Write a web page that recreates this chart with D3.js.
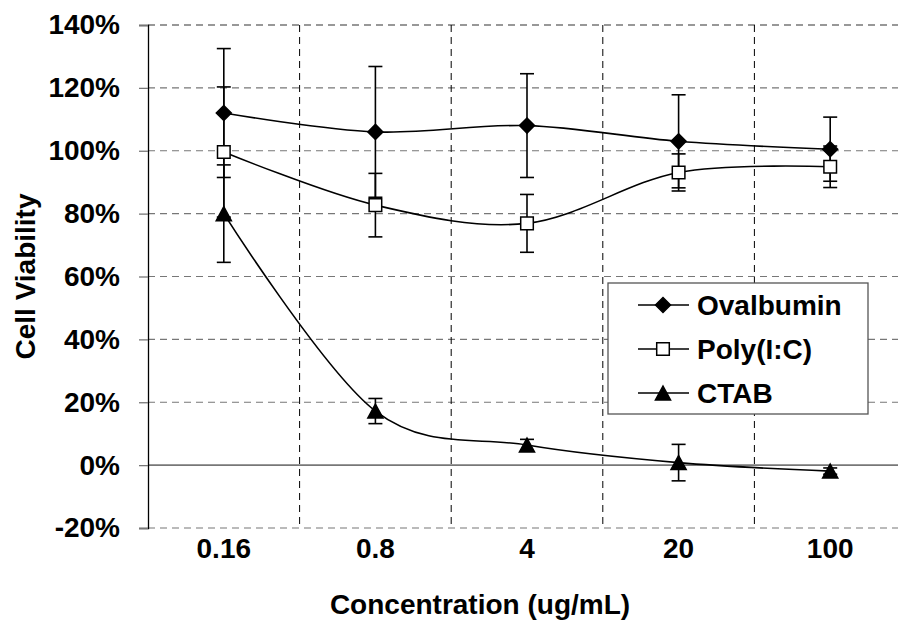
<!DOCTYPE html>
<html>
<head>
<meta charset="utf-8">
<script src="https://cdnjs.cloudflare.com/ajax/libs/d3/7.8.5/d3.min.js"></script>
<style>
  body { margin: 0; background: #fff; }
  svg { display: block; font-family: "Liberation Sans", Arial, sans-serif; font-weight: bold; }
</style>
</head>
<body>
<div id="chart"></div>
<script>
// data
var categories = ["0.16", "0.8", "4", "20", "100"];
var ovalbumin = [112, 106, 108, 103, 100.5];
var ovalbuminErr = [20.5, 20.8, 16.5, 14.8, 10.2];
var polyIC = [99.6, 82.7, 76.9, 93.1, 94.9];
var polyICErr = [20.7, 10.1, 9.2, 5.9, 6.6];
var ctab = [80, 17.2, 6.4, 0.8, -1.9];
var ctabErr = [15.5, 4, 1.8, 5.8, 1];
var yTicks = [-20, 0, 20, 40, 60, 80, 100, 120, 140];

var W = 898, H = 629;
var margin = {left: 148, top: 25, right: -8, bottom: 101};
var width = W - margin.left - margin.right,
    height = H - margin.top - margin.bottom;

var svg = d3.select("#chart").append("svg")
    .attr("width", W)
    .attr("height", H);

var x = d3.scaleBand().domain(categories).range([0, width]).padding(0);
var y = d3.scaleLinear().domain([-20, 140]).range([height, 0]);

var g = svg.append("g")
    .attr("transform", "translate(" + margin.left + "," + margin.top + ")");

// horizontal grid
g.selectAll("line.hgrid")
    .data(yTicks.filter(function (d) { return d != 0; }))
    .enter().append("line")
    .attr("class", "hgrid")
    .attr("x1", 0).attr("x2", width)
    .attr("y1", function (d) { return y(d); })
    .attr("y2", function (d) { return y(d); })
    .attr("stroke", "#777")
    .attr("stroke-width", function (d) { return d == 140 ? 1.6 : 1.2; })
    .attr("stroke-dasharray", "7,5");

// vertical grid between categories
g.selectAll("line.vgrid")
    .data(categories.slice(1))
    .enter().append("line")
    .attr("class", "vgrid")
    .attr("x1", function (d) { return x(d); })
    .attr("x2", function (d) { return x(d); })
    .attr("y1", 0).attr("y2", height)
    .attr("stroke", "#000")
    .attr("stroke-width", 1)
    .attr("stroke-dasharray", "7,5");

// zero line (category axis)
g.append("line")
    .attr("x1", 0).attr("x2", width)
    .attr("y1", y(0)).attr("y2", y(0))
    .attr("stroke", "#777")
    .attr("stroke-width", 1.6);

// y axis
var yAxis = d3.axisLeft(y)
    .tickValues(yTicks)
    .tickSize(9)
    .tickPadding(19)
    .tickFormat(function (d) { return d + "%"; });
var ya = g.append("g").call(yAxis);
ya.select(".domain").attr("stroke", "#000").attr("stroke-width", 1.3);
ya.selectAll(".tick line").attr("stroke", "#777").attr("stroke-width", 1.3);
ya.selectAll("text")
    .attr("font-size", 28)
    .attr("font-weight", "bold")
    .attr("fill", "#000")
    .attr("font-family", "Liberation Sans, Arial, sans-serif");

// x labels
var xAxis = d3.axisBottom(x).tickSize(0).tickPadding(10);
var xa = g.append("g").attr("transform", "translate(0," + height + ")").call(xAxis);
xa.select(".domain").remove();
xa.selectAll("text")
    .attr("font-size", 28)
    .attr("font-weight", "bold")
    .attr("fill", "#000")
    .attr("font-family", "Liberation Sans, Arial, sans-serif");

// axis titles
svg.append("text")
    .attr("x", 480).attr("y", 614)
    .attr("text-anchor", "middle")
    .attr("font-size", 28)
    .text("Concentration (ug/mL)");

svg.append("text")
    .attr("transform", "translate(35," + (margin.top + height / 2) + ") rotate(-90)")
    .attr("text-anchor", "middle")
    .attr("font-size", 28)
    .text("Cell Viability");

var cx = function (i) { return x(categories[i]) + x.bandwidth() / 2; };

var line = d3.line()
    .x(function (d, i) { return cx(i); })
    .y(function (d) { return y(d); })
    .curve(d3.curveCatmullRom.alpha(0));

function diamond(s) {
    return "M0," + (-s) + "L" + s + ",0L0," + s + "L" + (-s) + ",0Z";
}
function square(s) {
    return "M" + (-s) + "," + (-s) + "h" + (2 * s) + "v" + (2 * s) + "h" + (-2 * s) + "Z";
}
function triangle(s) {
    return "M0," + (-s) + "L" + (s * 1.08) + "," + s + "L" + (-s * 1.08) + "," + s + "Z";
}

var series = [
    {name: "Ovalbumin", values: ovalbumin, err: ovalbuminErr, shape: diamond(7.5), fill: "#000"},
    {name: "Poly(I:C)", values: polyIC, err: polyICErr, shape: square(6.3), fill: "#fff"},
    {name: "CTAB", values: ctab, err: ctabErr, shape: triangle(7), fill: "#000"}
];

series.forEach(function (s) {
    var sg = g.append("g").attr("class", "series");

    sg.append("path")
        .attr("d", line(s.values))
        .attr("fill", "none")
        .attr("stroke", "#000")
        .attr("stroke-width", 1.6);

    var eb = sg.selectAll("g.err")
        .data(s.values)
        .enter().append("g")
        .attr("class", "err");
    eb.append("line")
        .attr("x1", function (d, i) { return cx(i); })
        .attr("x2", function (d, i) { return cx(i); })
        .attr("y1", function (d, i) { return y(d + s.err[i]); })
        .attr("y2", function (d, i) { return y(d - s.err[i]); })
        .attr("stroke", "#000").attr("stroke-width", 1.6);
    [1, -1].forEach(function (sign) {
        eb.append("line")
            .attr("x1", function (d, i) { return cx(i) - 7; })
            .attr("x2", function (d, i) { return cx(i) + 7; })
            .attr("y1", function (d, i) { return y(d + sign * s.err[i]); })
            .attr("y2", function (d, i) { return y(d + sign * s.err[i]); })
            .attr("stroke", "#000").attr("stroke-width", 1.6);
    });

    sg.selectAll("path.marker")
        .data(s.values)
        .enter().append("path")
        .attr("class", "marker")
        .attr("d", s.shape)
        .attr("transform", function (d, i) { return "translate(" + cx(i) + "," + y(d) + ")"; })
        .attr("fill", s.fill)
        .attr("stroke", "#000")
        .attr("stroke-width", 1.5);
});

// legend
var legend = svg.append("g").attr("transform", "translate(608,283)");
legend.append("rect")
    .attr("width", 260).attr("height", 131)
    .attr("fill", "#fff")
    .attr("stroke", "#555")
    .attr("stroke-width", 1.3);

var items = legend.selectAll("g.item")
    .data(series)
    .enter().append("g")
    .attr("class", "item")
    .attr("transform", function (d, i) { return "translate(0," + (22 + i * 44) + ")"; });
items.append("line")
    .attr("x1", 30).attr("x2", 81)
    .attr("stroke", "#000").attr("stroke-width", 1.6);
items.append("path")
    .attr("d", function (d) { return d.shape; })
    .attr("transform", "translate(55,0)")
    .attr("fill", function (d) { return d.fill; })
    .attr("stroke", "#000")
    .attr("stroke-width", 1.5);
items.append("text")
    .attr("x", 89).attr("dy", "0.35em")
    .attr("font-size", 28)
    .text(function (d) { return d.name; });
</script>
</body>
</html>
